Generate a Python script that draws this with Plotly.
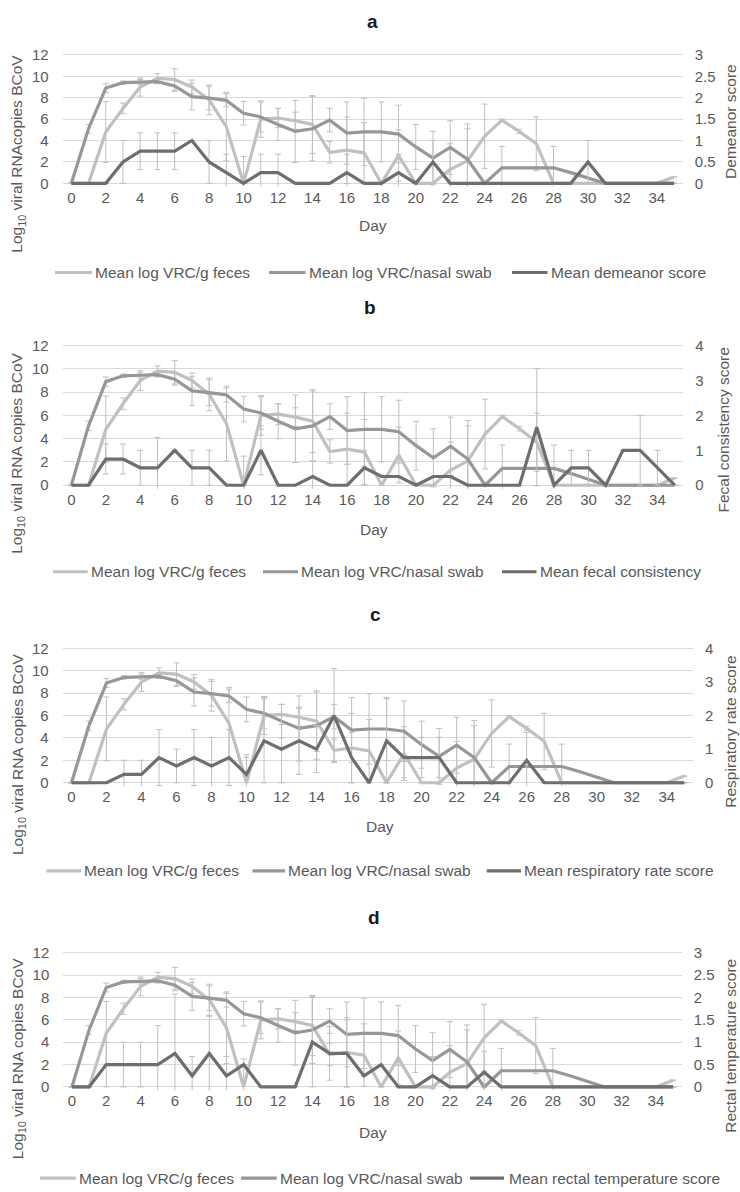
import plotly.graph_objects as go

W, H = 740, 1192
N = None

days = list(range(36))
x_ticks = list(range(0, 35, 2))

feces = [0, 0, 4.8, 7.0, 9.0, 9.8, 9.7, 9.0, 7.8, 5.3, 0, 6.0, 6.1, 5.85, 5.5, 2.9, 3.1, 2.85,
         0, 2.6, 0, 0, 1.3, 2.1, 4.4, 5.9, 4.85, 3.7, 0, 0, 0, 0, 0, 0, 0, 0.6]
feces_err = [N, N, 2.85, 0.5, 0.85, 0.45, 1.0, 0.65, 1.4, 3.2, 2.5, 1.7, 0.9, 0.8, 2.7, 1.0, 3.1, 2.8,
             N, 2.4, N, N, 2.4, 3.0, 3.0, 0.1, 0.2, 2.5, N, N, N, N, N, N, N, N]
nasal = [0, 5.1, 8.9, 9.4, 9.45, 9.5, 9.1, 8.1, 7.95, 7.75, 6.55, 6.2, 5.5, 4.85, 5.1, 5.9, 4.7, 4.8,
         4.8, 4.6, 3.4, 2.35, 3.35, 2.25, 0, 1.45, 1.45, 1.45, 1.45, 1.0, 0.5, 0, 0, 0, 0, 0]
nasal_err = [N, 0.4, 0.4, 0.15, 0.25, 0.2, 0.5, 1.25, 1.1, 0.6, 1.1, 1.4, 1.5, 2.9, 3.0, 1.1, 2.9, 3.15,
             2.8, 2.7, 2.1, 2.5, 2.5, 3.3, N, 2.0, N, N, 2.0, N, N, N, N, N, N, N]

demeanor = [0, 0, 0, 0.5, 0.75, 0.75, 0.75, 1.0, 0.5, 0.25, 0, 0.25, 0.25, 0, 0, 0, 0.25, 0,
            0, 0.25, 0, 0.5, 0, 0, 0, 0, 0, 0, 0, 0, 0.5, 0, 0, 0, 0, 0]
demeanor_err = [N, N, N, 0.5, 0.43, 0.43, 0.43, N, 0.5, 0.43, N, 0.43, 0.43, N, N, N, 0.43, N,
                N, 0.43, N, 0.5, N, N, N, N, N, N, N, N, 0.5, N, N, N, N, N]
fecal = [0, 0, 0.75, 0.75, 0.5, 0.5, 1.0, 0.5, 0.5, 0, 0, 1.0, 0, 0, 0.25, 0, 0, 0.5,
         0.25, 0.25, 0, 0.25, 0.25, 0, 0, 0, 0, 1.66, 0, 0.5, 0.5, 0, 1.0, 1.0, 0.5, 0]
fecal_err = [N, N, 0.43, 0.43, 0.5, 0.87, N, 0.5, 0.5, N, N, 0.7, N, N, 0.43, N, N, 0.5,
             N, N, N, N, N, N, N, N, N, 1.68, N, 0.5, 0.5, N, N, 1.0, 0.5, N]
resp = [0, 0, 0, 0.25, 0.25, 0.75, 0.5, 0.75, 0.5, 0.75, 0.25, 1.25, 1.0, 1.25, 1.0, 2.0, 0.75, 0,
        1.25, 0.75, 0.75, 0.75, 0, 0, 0, 0, 0.67, 0, 0, 0, 0, 0, 0, 0, 0, 0]
resp_err = [N, N, N, 0.42, 0.42, 0.83, 0.5, 0.83, 0.85, 0.83, 0.5, 1.25, 1.0, 1.0, 0.7, 1.4, 0.75, N,
            1.25, 0.6, 0.6, 0.6, N, N, N, N, 0.83, N, N, N, N, N, N, N, N, N]
rectal = [0, 0, 0.5, 0.5, 0.5, 0.5, 0.75, 0.25, 0.75, 0.25, 0.5, 0, 0, 0, 1.0, 0.75, 0.75, 0.25,
          0.5, 0, 0, 0.25, 0, 0, 0.33, 0, 0, 0, 0, 0, 0, 0, 0, 0, 0, 0]
rectal_err = [N, N, 0.5, 0.5, 0.5, 0.87, 1.33, 0.43, 0.83, 0.43, N, N, N, N, 1.0, 0.6, 0.75, N,
              N, N, N, 0.43, N, N, 0.47, N, N, N, N, N, N, N, N, N, N, N]

left_ticks = [0, 2, 4, 6, 8, 10, 12]
right_ticks_3 = [0, 0.5, 1, 1.5, 2, 2.5, 3]
right_ticks_4 = [0, 1, 2, 3, 4]

FONT = "Liberation Sans, Arial, sans-serif"
TXT = "#595959"
GRID = "#d9d9d9"
C_FECES = "#c0c0c0"
C_NASAL = "#979797"
C_SCORE = "#6e6e6e"
C_ERR = "#bfbfbf"

panels = [
    dict(letter="a", letter_xy=(372, 16), score=demeanor, score_err=demeanor_err,
         score_name="Mean demeanor score", right_title="Demeanor score",
         left_title="Log<sub>10</sub> viral RNAcopies BCoV",
         rmax=3, rticks=right_ticks_3, x0=62.7, x1=682.7, y0=179.0, y12=49.3,
         left_xy=(18, 149), right_xy=(731, 117), day_xy=(372.5, 222),
         leg_y=269, leg=[(55, 92, 93), (269, 305.5, 306.7), (512, 547.5, 548.5)]),
    dict(letter="b", letter_xy=(370, 304), score=fecal, score_err=fecal_err,
         score_name="Mean fecal consistency", right_title="Fecal consistency score",
         left_title="Log<sub>10</sub> viral RNA copies BCoV",
         rmax=4, rticks=right_ticks_4, x0=62.7, x1=683.3, y0=483.7, y12=342.7,
         left_xy=(18, 452), right_xy=(723.5, 428), day_xy=(374, 528),
         leg_y=571, leg=[(53, 87.7, 88.6), (263, 298, 299), (502, 536.5, 538)]),
    dict(letter="c", letter_xy=(375, 614), score=resp, score_err=resp_err,
         score_name="Mean respiratory rate score", right_title="Respiratory rate score",
         left_title="Log<sub>10</sub> viral RNA copies BCoV",
         rmax=4, rticks=right_ticks_4, x0=62.7, x1=693.0, y0=784.0, y12=648.3,
         left_xy=(18, 756), right_xy=(730.5, 733), day_xy=(380, 828),
         leg_y=873, leg=[(46.5, 81, 82), (252.5, 285, 286), (486.7, 521, 522)]),
    dict(letter="d", letter_xy=(374, 920), score=rectal, score_err=rectal_err,
         score_name="Mean rectal temperature score", right_title="Rectal temperature score",
         left_title="Log<sub>10</sub> viral RNA copies BCoV",
         rmax=3, rticks=right_ticks_3, x0=63.3, x1=681.7, y0=1091.0, y12=955.7,
         left_xy=(18, 1063), right_xy=(730.5, 1050), day_xy=(373, 1137),
         leg_y=1183, leg=[(40, 75.8, 77), (241, 276.7, 277.6), (470, 504, 506.6)]),
]


def fx(px):
    return px / W


def fy(py):
    return 1 - py / H


fig = go.Figure()
layout = {}
annotations = []
shapes = []
LO, HI = -0.3, 12.3

for i, p in enumerate(panels):
    n = i + 1
    xa = "x" if n == 1 else f"x{n}"
    yl = 2 * n - 1
    yr = 2 * n
    yl_ref = "y" if yl == 1 else f"y{yl}"
    yr_ref = f"y{yr}"
    k = (p["y0"] - p["y12"]) / 12.0
    bottom_px = p["y0"] - LO * k
    top_px = p["y12"] - (HI - 12) * k
    ydom = [fy(bottom_px), fy(top_px)]
    scale = p["rmax"] / 12.0

    layout["xaxis" if n == 1 else f"xaxis{n}"] = dict(
        domain=[fx(p["x0"]), fx(p["x1"])], range=[-0.5, 35.5], anchor=yl_ref,
        tickmode="array", tickvals=x_ticks, ticks="", showgrid=False, zeroline=False,
        showline=False, tickfont=dict(family=FONT, size=15, color=TXT), ticklabelstandoff=0)
    layout["yaxis" if yl == 1 else f"yaxis{yl}"] = dict(
        domain=ydom, range=[LO, HI], anchor=xa, tickmode="array", tickvals=left_ticks,
        showgrid=True, gridcolor=GRID, gridwidth=1, zeroline=False, showline=False, ticks="",
        tickfont=dict(family=FONT, size=15, color=TXT), ticklabelstandoff=13)
    layout[f"yaxis{yr}"] = dict(
        domain=ydom, range=[LO * scale, HI * scale], anchor=xa, overlaying=yl_ref, side="right",
        tickmode="array", tickvals=p["rticks"], showgrid=False, zeroline=False, showline=False,
        ticks="", tickfont=dict(family=FONT, size=15, color=TXT), ticklabelstandoff=11)

    series = [
        (feces, feces_err, C_FECES, "Mean log VRC/g feces", yl_ref),
        (nasal, nasal_err, C_NASAL, "Mean log VRC/nasal swab", yl_ref),
        (p["score"], p["score_err"], C_SCORE, p["score_name"], yr_ref),
    ]
    for vals, errs, col, name, yref in series:
        fig.add_trace(go.Scatter(
            x=days, y=vals, mode="lines", name=name, showlegend=False,
            line=dict(color=col, width=3.2), xaxis=xa, yaxis=yref,
            error_y=dict(type="data", array=errs, visible=True, color=C_ERR,
                         thickness=1, width=3)))

    # manual legend
    for (lx0, lx1, tx), (vals, errs, col, name, yref) in zip(p["leg"], series):
        shapes.append(dict(type="line", xref="paper", yref="paper",
                           x0=fx(lx0), x1=fx(lx1), y0=fy(p["leg_y"]), y1=fy(p["leg_y"]),
                           line=dict(color=col, width=3.2)))
        annotations.append(dict(text=name, xref="paper", yref="paper", x=fx(tx), y=fy(p["leg_y"]),
                                xanchor="left", yanchor="middle", showarrow=False,
                                font=dict(family=FONT, size=15.5, color=TXT)))

    annotations.append(dict(text=f"<b>{p['letter']}</b>", xref="paper", yref="paper",
                            x=fx(p["letter_xy"][0]), y=fy(p["letter_xy"][1]), xanchor="center",
                            yanchor="middle", showarrow=False,
                            font=dict(family=FONT, size=19, color="#1a1a1a")))
    annotations.append(dict(text="Day", xref="paper", yref="paper", x=fx(p["day_xy"][0]),
                            y=fy(p["day_xy"][1]), xanchor="center", yanchor="middle",
                            showarrow=False, font=dict(family=FONT, size=15.5, color=TXT)))
    annotations.append(dict(text=p["left_title"], xref="paper", yref="paper",
                            x=fx(p["left_xy"][0]), y=fy(p["left_xy"][1]), xanchor="center",
                            yanchor="middle", textangle=-90, showarrow=False,
                            font=dict(family=FONT, size=15.5, color=TXT)))
    annotations.append(dict(text=p["right_title"], xref="paper", yref="paper",
                            x=fx(p["right_xy"][0]), y=fy(p["right_xy"][1]), xanchor="center",
                            yanchor="middle", textangle=-90, showarrow=False,
                            font=dict(family=FONT, size=15.5, color=TXT)))

fig.update_layout(
    width=W, height=H, margin=dict(l=0, r=0, t=0, b=0),
    paper_bgcolor="white", plot_bgcolor="white", showlegend=False,
    annotations=annotations, shapes=shapes, **layout)

fig.write_html(
    "out.html",
    config={"displayModeBar": False},
    post_script="document.body.style.margin='0';document.body.style.padding='0';"
                "document.body.style.overflow='hidden';")
